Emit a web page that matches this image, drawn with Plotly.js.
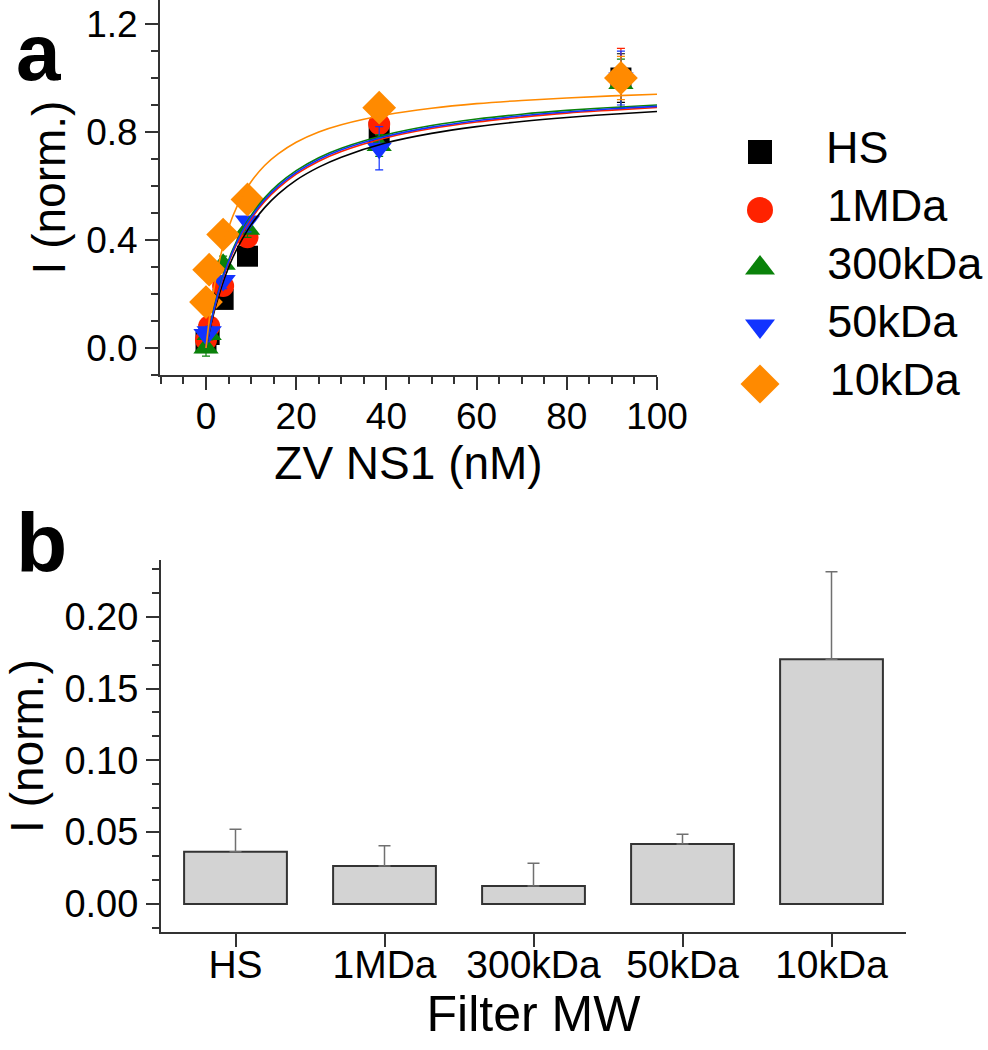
<!DOCTYPE html>
<html>
<head>
<meta charset="utf-8">
<script src="https://cdn.plot.ly/plotly-3.0.1.min.js"></script>
<style>
  html, body { margin: 0; padding: 0; background: #fff; }
  #chart { width: 988px; height: 1050px; }
</style>
</head>
<body>
<div id="chart"></div>
<script>
// ---------- Panel a : binding data ----------
const seriesNames = ["HS", "1MDa", "300kDa", "50kDa", "10kDa"];
const seriesColors = ["#000000", "#ff2200", "#0a820a", "#1133ff", "#ff8a00"];
const seriesSymbols = ["square", "circle", "triangle-up", "triangle-down", "diamond"];
const conc = [0, 0.7, 3.8, 9.2, 38.4, 92];

const yHS     = [0.02, 0.05, 0.18, 0.34, 0.80, 1.00];
const y1MDa   = [0.03, 0.08, 0.23, 0.41, 0.83, 1.00];
const y300kDa = [0.00, 0.05, 0.31, 0.44, 0.75, 0.98];
const y50kDa  = [0.05, 0.06, 0.25, 0.47, 0.74, 1.00];
const y10kDa  = [0.17, 0.29, 0.42, 0.55, 0.89, 1.00];

const eHS     = [0.02, 0.02, 0.02, 0.03, 0.04, 0.09];
const e1MDa   = [0.02, 0.02, 0.03, 0.03, 0.04, 0.11];
const e300kDa = [0.03, 0.02, 0.03, 0.03, 0.04, 0.09];
const e50kDa  = [0.02, 0.02, 0.03, 0.04, 0.08, 0.10];
const e10kDa  = [0.02, 0.02, 0.02, 0.03, 0.03, 0.08];

// fitted curves
const fitX     = [0, 1, 2, 3, 4, 6, 8, 10, 13, 16, 20, 25, 30, 40, 50, 60, 70, 80, 90, 100];
const fitHS    = [0, 0.079, 0.146, 0.203, 0.254, 0.337, 0.402, 0.456, 0.520, 0.570, 0.622, 0.670, 0.707, 0.760, 0.795, 0.820, 0.839, 0.854, 0.866, 0.876];
const fit1MDa  = [0, 0.085, 0.156, 0.217, 0.270, 0.356, 0.424, 0.478, 0.543, 0.592, 0.644, 0.692, 0.728, 0.779, 0.813, 0.837, 0.855, 0.870, 0.881, 0.891];
const fit300k  = [0, 0.089, 0.163, 0.225, 0.279, 0.367, 0.436, 0.491, 0.556, 0.606, 0.657, 0.705, 0.740, 0.790, 0.824, 0.848, 0.866, 0.880, 0.891, 0.900];
const fit50k   = [0, 0.087, 0.159, 0.221, 0.274, 0.361, 0.430, 0.484, 0.549, 0.599, 0.650, 0.698, 0.734, 0.784, 0.818, 0.842, 0.860, 0.874, 0.886, 0.895];
const fit10k   = [0, 0.139, 0.243, 0.325, 0.391, 0.491, 0.562, 0.616, 0.676, 0.719, 0.762, 0.800, 0.827, 0.864, 0.888, 0.905, 0.917, 0.926, 0.934, 0.940];

// ---------- Panel b : bar data ----------
const filterMW = ["HS", "1MDa", "300kDa", "50kDa", "10kDa"];
const barValues = [0.0364, 0.0265, 0.0125, 0.0418, 0.1704];
const barErrors = [0.0156, 0.0141, 0.0158, 0.0067, 0.0610];

const FONT = "Arial, 'Liberation Sans', sans-serif";
const AXCOL = "#333333";

const pointsY = [yHS, y1MDa, y300kDa, y50kDa, y10kDa];
const pointsE = [eHS, e1MDa, e300kDa, e50kDa, e10kDa];
const fitsY = [fitHS, fit1MDa, fit300k, fit50k, fit10k];

const traces = [];
const markerSizes = [21, 22, 22, 22, 26];

seriesNames.forEach((name, i) => {
  traces.push({
    type: "scatter", mode: "markers", name: name,
    x: conc, y: pointsY[i],
    xaxis: "x", yaxis: "y",
    marker: { symbol: seriesSymbols[i], color: seriesColors[i], size: markerSizes[i], opacity: 1, line: { width: 0 } },
    error_y: { type: "data", array: pointsE[i], visible: true, color: seriesColors[i], thickness: 1.2, width: 4 },
    showlegend: false, hoverinfo: "x+y"
  });
});
seriesNames.forEach((name, i) => {
  traces.push({
    type: "scatter", mode: "lines", name: name + " fit",
    x: fitX, y: fitsY[i],
    xaxis: "x", yaxis: "y",
    line: { color: seriesColors[i], width: 1.6, shape: "spline" },
    showlegend: false, hoverinfo: "skip"
  });
});

// manual legend (large symbols) on its own hidden axes
traces.push({
  type: "scatter", mode: "markers+text",
  x: seriesNames.map(() => 0),
  y: seriesNames.map((_, i) => i),
  text: seriesNames.map(n => "\u00a0\u00a0\u00a0\u00a0" + n),
  textposition: "middle right",
  textfont: { family: FONT, size: 45, color: "#000" },
  marker: { symbol: seriesSymbols, color: seriesColors, size: [24, 26, 26, 26, 30], opacity: 1, line: { width: 0 } },
  xaxis: "x3", yaxis: "y3", showlegend: false, hoverinfo: "skip", cliponaxis: false
});

// bars
traces.push({
  type: "bar", x: filterMW, y: barValues, width: 0.69,
  xaxis: "x2", yaxis: "y2",
  marker: { color: "#d3d3d3", line: { color: AXCOL, width: 2 } },
  error_y: { type: "data", symmetric: false, array: barErrors, arrayminus: barValues.map(() => 0),
             color: "#707070", thickness: 1.5, width: 6 },
  showlegend: false
});

const commonAxis = {
  showline: true, linecolor: AXCOL, linewidth: 2, mirror: false,
  showgrid: false, zeroline: false, ticks: "outside", tickcolor: AXCOL, tickwidth: 2,
  automargin: false
};

const layout = {
  width: 988, height: 1050,
  margin: { l: 0, r: 0, t: 0, b: 0 },
  paper_bgcolor: "#ffffff", plot_bgcolor: "rgba(0,0,0,0)",
  font: { family: FONT, color: "#000" },
  showlegend: false,
  xaxis: Object.assign({}, commonAxis, {
    domain: [160/988, 657/988], anchor: "y",
    range: [-10.2, 100], tick0: 0, dtick: 20, ticklen: 13, ticklabelstandoff: -5,
    tickfont: { size: 37 },
    minor: { dtick: 5, ticks: "outside", ticklen: 7, tickcolor: AXCOL, tickwidth: 2, showgrid: false },
    title: { text: "ZV NS1 (nM)", font: { size: 46 }, standoff: 6 }
  }),
  yaxis: Object.assign({}, commonAxis, {
    domain: [1 - 375/1050, 1], anchor: "x",
    range: [-0.1, 1.289], tick0: 0, dtick: 0.4, tickformat: ".1f", ticklen: 13,
    tickfont: { size: 37 },
    minor: { dtick: 0.1, ticks: "outside", ticklen: 7, tickcolor: AXCOL, tickwidth: 2, showgrid: false },
    title: { text: "I (norm.)", font: { size: 46 }, standoff: 6 }
  }),
  xaxis2: Object.assign({}, commonAxis, {
    domain: [161/988, 906/988], anchor: "y2", type: "category",
    range: [-0.5, 4.5], ticklen: 13, ticklabelstandoff: -16,
    tickfont: { size: 39 },
    title: { text: "Filter MW", font: { size: 50 }, standoff: 10 }
  }),
  yaxis2: Object.assign({}, commonAxis, {
    domain: [1 - 932/1050, 1 - 560/1050], anchor: "x2",
    range: [-0.0195, 0.2395], tick0: 0, dtick: 0.05, tickformat: ".2f", ticklen: 13,
    tickfont: { size: 38 },
    minor: { dtick: 0.05/3, ticks: "outside", ticklen: 7, tickcolor: AXCOL, tickwidth: 2, showgrid: false },
    title: { text: "I (norm.)", font: { size: 46 }, standoff: 6 }
  }),
  xaxis3: { domain: [740/988, 1], anchor: "y3", range: [-0.5, 5.7], visible: false, fixedrange: true },
  yaxis3: { domain: [1 - 420/1050, 1 - 115/1050], anchor: "x3", range: [4.621, -0.638], visible: false, fixedrange: true },
  annotations: [
    { text: "<b>a</b>", x: 14/988, y: 1 - 6/1050, xref: "paper", yref: "paper", xanchor: "left", yanchor: "top",
      showarrow: false, font: { size: 80, family: FONT, color: "#000" } },
    { text: "<b>b</b>", x: 14/988, y: 1 - 494/1050, xref: "paper", yref: "paper", xanchor: "left", yanchor: "top",
      showarrow: false, font: { size: 84, family: FONT, color: "#000" } }
  ]
};

Plotly.newPlot("chart", traces, layout, { displayModeBar: false, staticPlot: true });
</script>
</body>
</html>
